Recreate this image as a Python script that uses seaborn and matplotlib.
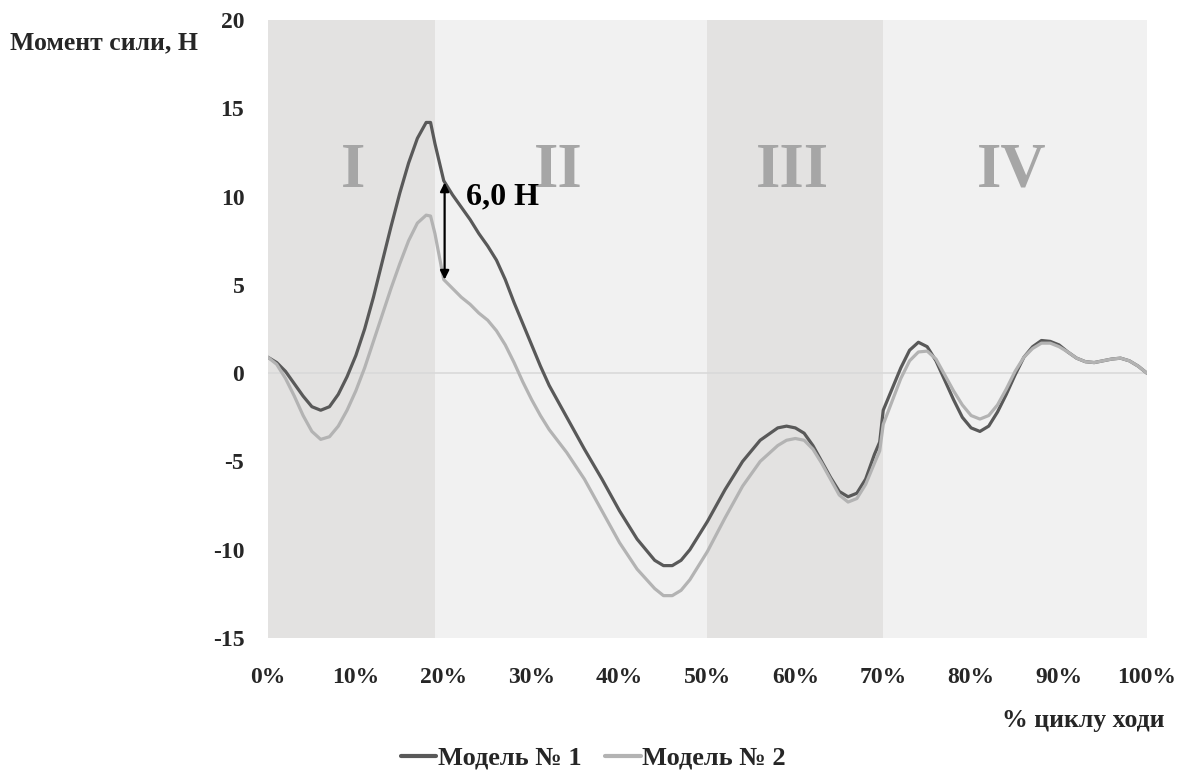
import matplotlib
matplotlib.use("Agg")
import matplotlib.pyplot as plt
import seaborn as sns
import pandas as pd

# gait cycle, % (shared x for both models)
x_pct = [0, 1, 2, 3, 4, 5, 6, 7, 8, 9, 10, 11, 12, 13, 14, 15, 16, 17, 18, 18.5,
         19, 20, 21, 22, 23, 24, 25, 26, 27, 28, 29, 30, 31, 32,
         34, 36, 38, 40, 42, 44, 45, 46, 47, 48,
         50, 52, 54, 56, 58,
         59, 60, 61, 62, 63, 64, 65, 66, 67, 68, 69, 69.6,
         70, 71, 72, 73, 74, 75, 76, 77, 78, 79, 80, 81, 82, 83, 84, 85,
         86, 87, 88, 89, 90, 91, 92, 93, 94, 95, 96, 97, 98, 99, 100]

model_1 = [0.9, 0.6, 0.1, -0.6, -1.3, -1.9, -2.1, -1.9, -1.2, -0.2, 1.0, 2.5, 4.3, 6.3, 8.3, 10.2, 11.9, 13.3, 14.2, 14.2,
           13.0, 10.9, 10.1, 9.4, 8.7, 7.9, 7.2, 6.4, 5.3, 4.0, 2.8, 1.6, 0.4, -0.7,
           -2.5, -4.3, -6.0, -7.8, -9.4, -10.6, -10.9, -10.9, -10.6, -10.0,
           -8.4, -6.6, -5.0, -3.8, -3.1,
           -3.0, -3.1, -3.4, -4.1, -5.0, -5.9, -6.7, -7.0, -6.8, -6.0, -4.6, -3.9,
           -2.1, -0.9, 0.3, 1.3, 1.75, 1.5, 0.7, -0.4, -1.5, -2.5, -3.1, -3.3, -3.0, -2.2, -1.2, -0.1,
           0.9, 1.5, 1.85, 1.8, 1.6, 1.2, 0.85, 0.65, 0.6, 0.7, 0.8, 0.85, 0.7, 0.4, 0.0]

model_2 = [0.9, 0.5, -0.3, -1.3, -2.4, -3.3, -3.75, -3.6, -3.0, -2.1, -1.0, 0.3, 1.8, 3.3, 4.8, 6.2, 7.5, 8.5, 8.95, 8.9,
           7.9, 5.3, 4.8, 4.3, 3.9, 3.4, 3.0, 2.4, 1.6, 0.6, -0.5, -1.5, -2.4, -3.2,
           -4.5, -6.0, -7.8, -9.6, -11.1, -12.2, -12.6, -12.6, -12.3, -11.7,
           -10.1, -8.2, -6.4, -5.0, -4.1,
           -3.8, -3.7, -3.8, -4.3, -5.1, -6.0, -6.9, -7.3, -7.1, -6.3, -5.1, -4.4,
           -2.9, -1.6, -0.3, 0.7, 1.2, 1.25, 0.8, -0.1, -1.0, -1.8, -2.4, -2.6, -2.4, -1.8, -0.9, 0.1,
           0.9, 1.4, 1.7, 1.7, 1.5, 1.2, 0.85, 0.65, 0.6, 0.7, 0.8, 0.85, 0.7, 0.4, 0.0]

series_names = ["Модель № 1", "Модель № 2"]

# gait phases
phase_edges = [0, 19, 50, 70, 100]
phase_labels = ["I", "II", "III", "IV"]
phase_label_x = [9.7, 33.0, 59.7, 84.6]

y_ticks = [-15, -10, -5, 0, 5, 10, 15, 20]
x_ticks = [0, 10, 20, 30, 40, 50, 60, 70, 80, 90, 100]

# difference marker at the end of phase I
diff_x = 20.1
diff_top = 10.8
diff_bottom = 5.3
diff_label = "6,0 Н"

sns.set_theme(style="white")
plt.rcParams['font.family'] = ['Liberation Serif', 'DejaVu Serif']
plt.rcParams['font.weight'] = 'bold'
plt.rcParams['axes.unicode_minus'] = False

df = pd.concat([
    pd.DataFrame({'x': x_pct, 'y': model_1, 'model': series_names[0]}),
    pd.DataFrame({'x': x_pct, 'y': model_2, 'model': series_names[1]}),
])

fig = plt.figure(figsize=(11.83, 7.71), dpi=100)
ax = fig.add_axes([0.2265, 0.1725, 0.743, 0.8015])

phase_colors = ['#e3e2e1', '#f1f1f1', '#e3e2e1', '#f1f1f1']
for i in range(len(phase_labels)):
    ax.axvspan(phase_edges[i], phase_edges[i + 1], color=phase_colors[i], lw=0, zorder=0)
    ax.text(phase_label_x[i], 11.4, phase_labels[i], ha='center', va='center',
            fontsize=45, fontweight='bold', color='#a6a6a6', zorder=1)

ax.axhline(0, color='#d9d9d9', lw=1.2, zorder=1)

sns.lineplot(data=df, x='x', y='y', hue='model', palette=['#595959', '#b3b3b3'],
             linewidth=2.3, ax=ax, legend=False, zorder=3)

ax.annotate('', xy=(diff_x, diff_bottom), xytext=(diff_x, diff_top),
            arrowprops=dict(arrowstyle='<|-|>', color='black', lw=1.6,
                            mutation_scale=13, shrinkA=0, shrinkB=0), zorder=4)
ax.text(diff_x + 2.4, 10.0, diff_label, ha='left', va='center', fontsize=23,
        fontweight='bold', color='black', zorder=4)

ax.set_xlim(0, 100)
ax.set_ylim(-15, 20)
ax.set_xticks(x_ticks)
ax.set_xticklabels([f"{t}%" for t in x_ticks])
ax.set_yticks(y_ticks)
ax.set_yticklabels([str(t) for t in y_ticks])
ax.tick_params(axis='both', length=0, labelsize=17)
ax.tick_params(axis='x', pad=21)
ax.tick_params(axis='y', pad=17)
for lab in ax.get_xticklabels() + ax.get_yticklabels():
    lab.set_fontweight('bold')
ax.set_xlabel('')
ax.set_ylabel('')
for s in ax.spines.values():
    s.set_visible(False)

fig.text(10 / 1183, 1 - 43 / 771, "Момент сили, Н", ha='left', va='center',
         fontsize=18.5, fontweight='bold')
fig.text(1165 / 1183, 1 - 720 / 771, "% циклу ходи", ha='right', va='center',
         fontsize=18.5, fontweight='bold')

handles = [plt.Line2D([], [], color='#595959', lw=3),
           plt.Line2D([], [], color='#b3b3b3', lw=3)]
fig.legend(handles, series_names, loc='center', bbox_to_anchor=(593 / 1183, 1 - 758 / 771),
           ncol=2, frameon=False, handlelength=1.35, handletextpad=0.05, columnspacing=0.9,
           prop={'size': 19, 'weight': 'bold'})

fig.savefig('out.png', dpi=100)
